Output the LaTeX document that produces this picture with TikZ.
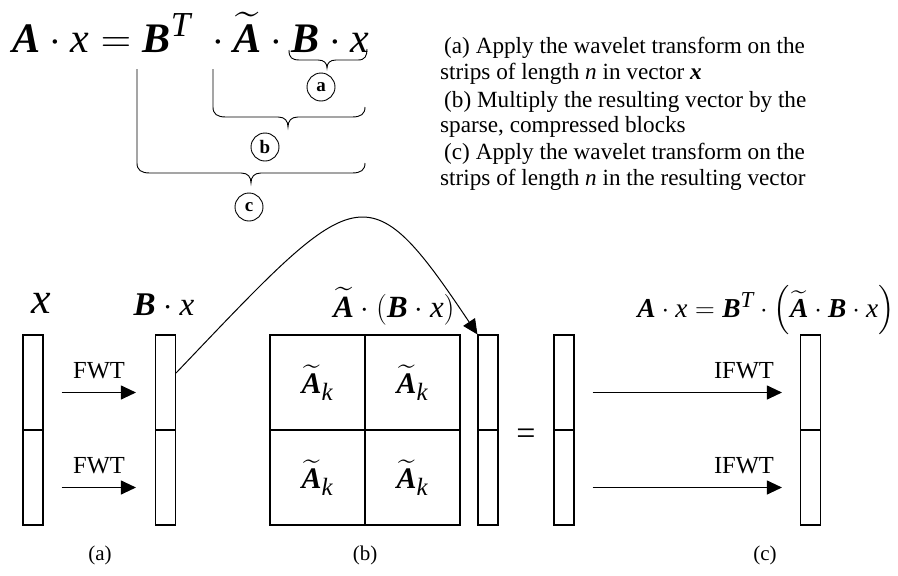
\documentclass[tikz,border=0pt]{standalone}
\usepackage{amsmath}
\usepackage{fontspec}
\setmainfont{Liberation Serif}
\usetikzlibrary{arrows.meta}

\newcommand{\matA}{\text{\bfseries\itshape A}}
\newcommand{\matB}{\text{\bfseries\itshape B}}
\newcommand{\vecx}{\text{\itshape x}}
\newcommand{\tilA}{\widetilde{\matA}}
% math at 24.88pt, scaled up so that the symbols keep pace with the letters
\newcommand{\bigmath}[2]{\scalebox{#1}{\fontsize{24.88}{30}\selectfont$#2$}}

\begin{document}
\begin{tikzpicture}[x=1pt,y=-1pt,
  cell/.style={draw,line width=1.1pt,minimum width=20pt,minimum height=95pt,inner sep=0pt},
  block/.style={draw,line width=1.1pt,minimum width=95pt,minimum height=95pt,inner sep=0pt},
  arr/.style={line width=1pt,-{Triangle[length=15pt,width=14pt]}},
  op/.style={anchor=base,inner sep=0pt,font=\fontsize{24.5}{29}\selectfont},
  tag/.style={draw,circle,minimum size=28pt,inner sep=0pt,line width=0.9pt,font=\fontsize{19}{21}\selectfont\bfseries},
  note/.style={anchor=base west,inner sep=0pt,font=\fontsize{23.2}{28}\selectfont},
  brace/.style={line width=0.9pt}]
\useasboundingbox (0,0) rectangle (898,576);

% the product and its parts
\node[anchor=base west,inner sep=0pt] (eq) at (12,52)
  {\bigmath{1.69}{\matA\cdot\vecx=\matB^{\text{\itshape T}}\;\cdot\tilA\cdot\matB\cdot\vecx}};
\draw[brace] (289,50) .. controls (289,58) and (292,60) .. (300,60) -- (318,60)
  .. controls (324,60) and (327,63) .. (327,68) .. controls (327,63) and (330,60) .. (336,60)
  -- (358,60) .. controls (365,60) and (367,56) .. (367,49);
\draw[brace] (213,69) -- (213,107) .. controls (213,114) and (217,117) .. (226,117) -- (278,117)
  .. controls (285,117) and (288,121) .. (288,127) .. controls (288,121) and (291,117) .. (298,117)
  -- (352,117) .. controls (361,117) and (365,114) .. (365,107);
\draw[brace] (137,69) -- (137,163) .. controls (137,170) and (141,173) .. (150,173) -- (241,173)
  .. controls (248,173) and (251,177) .. (251,183) .. controls (251,177) and (254,173) .. (261,173)
  -- (352,173) .. controls (361,173) and (365,170) .. (365,163);
\node[tag] (ta) at (321,87) {a};
\node[tag] (tb) at (265,147) {b};
\node[tag] (tc) at (249,207) {c};

\node[note] (na1) at (444,53) {(a) Apply the wavelet transform on the};
\node[note] (na2) at (440,79) {strips of length \textit{n} in vector \textbf{\textit{x}}};
\node[note] (nb1) at (444,107) {(b) Multiply the resulting vector by the};
\node[note] (nb2) at (440,132) {sparse, compressed blocks};
\node[note] (nc1) at (444,159) {(c) Apply the wavelet transform on the};
\node[note] (nc2) at (440,185) {strips of length \textit{n} in the resulting vector};

% vectors
\node[cell] (xa) at (33,382.5) {};
\node[cell] (xb) at (33,477.5) {};
\node[cell] (bxa) at (165.5,382.5) {};
\node[cell] (bxb) at (165.5,477.5) {};
\node[cell] (ya) at (488,382.5) {};
\node[cell] (yb) at (488,477.5) {};
\node[cell] (za) at (564,382.5) {};
\node[cell] (zb) at (564,477.5) {};
\node[cell] (wa) at (810.5,382.5) {};
\node[cell] (wb) at (810.5,477.5) {};

% compressed blocks
\node[block] (m11) at (317.5,382.5) {\bigmath{1.2}{\tilA_{\text{\itshape k}}}};
\node[block] (m12) at (412.5,382.5) {\bigmath{1.2}{\tilA_{\text{\itshape k}}}};
\node[block] (m21) at (317.5,477.5) {\bigmath{1.2}{\tilA_{\text{\itshape k}}}};
\node[block] (m22) at (412.5,477.5) {\bigmath{1.2}{\tilA_{\text{\itshape k}}}};

% labels
\node[anchor=base,inner sep=0pt,font=\fontsize{44}{50}\selectfont] (lx) at (41,313) {\itshape x};
\node[anchor=base,inner sep=0pt] (lbx) at (164,315) {\bigmath{1.33}{\matB\cdot\vecx}};
\node[anchor=base,inner sep=0pt] (lmid) at (394,317)
  {\bigmath{1.24}{\tilA\cdot\left(\matB\cdot\vecx\right)}};
\node[anchor=base,inner sep=0pt] (lres) at (766,317)
  {\bigmath{1.1}{\matA\cdot\vecx=\matB^{\text{\itshape T}}\cdot\left(\tilA\cdot\matB\cdot\vecx\right)}};
\node[inner sep=0pt,font=\fontsize{34}{40}\selectfont] (eqs) at (526,437) {=};

% transforms
\draw[arr,shorten <=18pt,shorten >=19pt] ([yshift=-10pt]xa.east) -- ([yshift=-10pt]bxa.west);
\draw[arr,shorten <=18pt,shorten >=19pt] ([yshift=-10pt]xb.east) -- ([yshift=-10pt]bxb.west);
\draw[arr,shorten <=18pt,shorten >=18pt] ([yshift=-10pt]za.east) -- ([yshift=-10pt]wa.west);
\draw[arr,shorten <=18pt,shorten >=18pt] ([yshift=-10pt]zb.east) -- ([yshift=-10pt]wb.west);
\node[op] (f1) at (99,378) {FWT};
\node[op] (f2) at (99,473) {FWT};
\node[op] (i1) at (744,378) {IFWT};
\node[op] (i2) at (744,473) {IFWT};
\draw[arr] ([yshift=9.5pt]bxa.east) .. controls (358,182) and (366,168) .. (ya.north west);

\node[anchor=base,inner sep=0pt,font=\fontsize{21}{25}\selectfont] (sa) at (100,560) {(a)};
\node[anchor=base,inner sep=0pt,font=\fontsize{21}{25}\selectfont] (sb) at (365,560) {(b)};
\node[anchor=base,inner sep=0pt,font=\fontsize{21}{25}\selectfont] (sc) at (765,560) {(c)};
\end{tikzpicture}
\end{document}
